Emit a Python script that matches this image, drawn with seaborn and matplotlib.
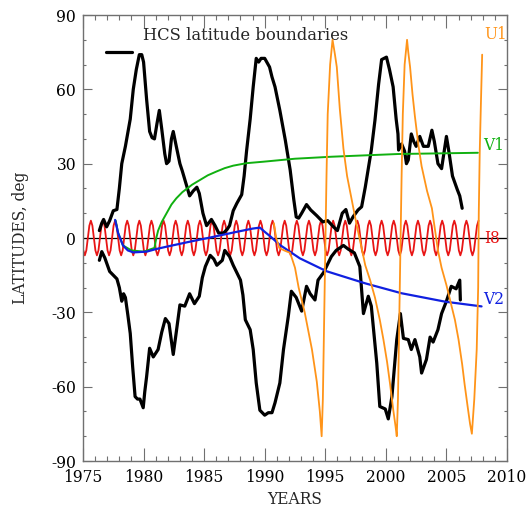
import matplotlib
matplotlib.use("Agg")
import matplotlib.pyplot as plt
import seaborn as sns
import numpy as np

# HCS latitude boundaries (north / south)
hcs_n_year = [1976.35, 1976.55, 1976.7, 1976.95, 1977.2, 1977.5, 1977.8, 1978.0, 1978.2, 1978.5,
              1978.9, 1979.15, 1979.4, 1979.65, 1979.85, 1980.0, 1980.25, 1980.5, 1980.7, 1980.9,
              1981.1, 1981.3, 1981.5, 1981.75, 1981.9, 1982.1, 1982.3, 1982.45, 1982.7, 1983.0,
              1983.2, 1983.5, 1983.8, 1984.1, 1984.4, 1984.6, 1984.9, 1985.2, 1985.6, 1985.9,
              1986.2, 1986.6, 1986.9, 1987.1, 1987.4, 1987.7, 1988.1, 1988.3, 1988.5, 1988.8,
              1989.05, 1989.3, 1989.5, 1989.7, 1990.0, 1990.4, 1990.6, 1990.85, 1991.25, 1991.7,
              1992.1, 1992.4, 1992.6, 1992.8, 1993.05, 1993.45, 1993.8, 1994.3, 1994.8, 1995.2,
              1995.7, 1996.0, 1996.4, 1996.7, 1997.0, 1997.3, 1997.7, 1998.0, 1998.3, 1998.8,
              1999.1, 1999.4, 1999.65, 2000.05, 2000.3, 2000.6, 2000.85, 2001.0, 2001.05, 2001.3,
              2001.55, 2001.7, 2001.85, 2002.1, 2002.3, 2002.5, 2002.8, 2003.1, 2003.5, 2003.8,
              2004.0, 2004.3, 2004.6, 2005.0, 2005.2, 2005.5, 2005.9, 2006.1, 2006.3]
hcs_n_lat = [3, 6, 7.5, 4.5, 7, 11, 11.5, 20, 30, 37,
             48, 60, 68, 74, 74, 71, 56, 43, 40.5, 40,
             46, 51.5, 44, 34, 30, 31, 40, 43, 37, 30,
             27, 22, 17, 19, 20.5, 18, 10, 5, 7.5, 5,
             2, 2, 3.5, 5, 11, 14, 17.5, 25, 35, 48,
             61, 72.5, 71, 72.5, 72.5, 69, 65, 61, 51.5, 39.5,
             27.5, 15.5, 8.5, 8, 10, 13.5, 11.3, 9, 6.5, 7,
             4.4, 3, 10, 11.5, 6, 8.6, 11.3, 12.6, 20.5, 35.5,
             47.5, 62, 72, 73, 68, 61, 48, 42, 35.5, 38,
             35, 30, 31.5, 42, 39, 37, 41, 37, 37, 43.5,
             39, 30, 28, 41, 35, 25, 19.5, 17, 12]

hcs_s_year = [1976.35, 1976.55, 1976.8, 1977.2, 1977.5, 1977.8, 1978.0, 1978.2, 1978.35, 1978.5,
              1978.7, 1978.9, 1979.1, 1979.3, 1979.5, 1979.7, 1979.97, 1980.1, 1980.25, 1980.5,
              1980.8, 1981.2, 1981.5, 1981.8, 1982.1, 1982.45, 1982.7, 1983.0, 1983.4, 1983.8,
              1984.2, 1984.6, 1984.85, 1985.1, 1985.5, 1985.8, 1986.05, 1986.5, 1986.7, 1987.1,
              1987.4, 1987.7, 1988.0, 1988.2, 1988.4, 1988.8, 1989.05, 1989.3, 1989.6, 1990.0,
              1990.3, 1990.6, 1990.85, 1991.25, 1991.55, 1991.95, 1992.2, 1992.6, 1993.05, 1993.45,
              1993.75, 1994.15, 1994.4, 1994.85, 1995.5, 1995.9, 1996.5, 1996.9, 1997.4, 1997.85,
              1998.15, 1998.55, 1998.8, 1999.25, 1999.5, 1999.95, 2000.2, 2000.5, 2000.9, 2001.2,
              2001.45, 2001.85, 2002.1, 2002.4, 2002.8, 2002.95, 2003.35, 2003.65, 2003.9, 2004.3,
              2004.6, 2005.0, 2005.4, 2005.8, 2006.1, 2006.15]
hcs_s_lat = [-9, -5.5, -8, -13.5, -15, -16.5, -20, -25.5, -22.5, -24,
             -31, -38.5, -52, -64, -65, -65, -68.5, -62, -56, -44.5,
             -48, -45, -38, -32.5, -34.5, -47, -38, -27, -27.5, -22.5,
             -26.5, -23.5, -16, -11.5, -7, -8.5, -11, -9, -5, -7.5,
             -11, -14, -17, -23, -33, -37, -45, -58.5, -69.5, -71.5,
             -70.5, -70.5, -66.5, -58.5, -45, -31.5, -21.5, -24, -29.5, -19.5,
             -22.5, -25, -17, -14, -7.5, -5, -3, -4.5, -6, -11.5,
             -30.5, -23.5, -27.5, -50.5, -68, -69, -73, -64, -41, -30.5,
             -40.5, -41, -45, -41, -48, -54.5, -49, -40, -42, -37,
             -30.5, -25.5, -19.5, -20.5, -17, -25]

# Ulysses (U1)
u1_year = [1990.75, 1990.95, 1991.2, 1991.6, 1992.1, 1992.5, 1992.8, 1993.3, 1993.9, 1994.3,
           1994.55, 1994.7, 1994.8, 1994.9, 1995.0, 1995.1, 1995.2, 1995.4, 1995.6, 1995.8,
           1995.95, 1996.2, 1996.5, 1996.8, 1997.2, 1997.6, 1998.0, 1998.3, 1998.7, 1999.1,
           1999.5, 1999.8, 2000.1, 2000.35, 2000.6, 2000.8, 2000.9, 2001.0, 2001.1, 2001.2,
           2001.3, 2001.4, 2001.55, 2001.75, 2001.85, 2002.0, 2002.2, 2002.4, 2002.7, 2002.95,
           2003.4, 2003.8, 2004.3, 2004.6, 2005.0, 2005.3, 2005.7, 2006.0, 2006.3, 2006.5,
           2006.75, 2006.95, 2007.1, 2007.3, 2007.5, 2007.62, 2007.67, 2007.75, 2007.85, 2007.95]
u1_lat = [6, 0, -4, -5, -6, -12, -20, -30, -45, -58,
          -70, -80, -65, -35, -5, 25, 50, 70, 80, 74,
          69, 52, 36, 25, 15, 5, -4, -11, -17, -24,
          -33, -41, -50, -59, -69, -76, -80, -65, -35, -5,
          25, 50, 70, 80, 75, 69, 58, 49, 37, 29,
          19, 12, -5, -12, -19, -25, -33, -41, -51, -59,
          -68, -75, -79, -65, -45, -20, 10, 35, 55, 74]

# Voyager 1 (V1) and Voyager 2 (V2)
v1_year = [1977.7, 1977.9, 1978.3, 1979.0, 1980.0, 1980.9, 1981.05, 1981.2, 1981.5, 1981.9,
           1982.3, 1982.7, 1983.2, 1984.0, 1984.65, 1985.3, 1986.0, 1986.7, 1987.4, 1988.5,
           1989.9, 1992.5, 1995.5, 2001.0, 2007.6]
v1_lat = [7, 2, -3, -5, -5.5, -4, 0, 3, 6.5, 10,
          13.5, 16, 18.5, 21.5, 23.4, 25.3, 26.8, 28.2, 29.2, 30.2,
          30.8, 32, 32.8, 33.9, 34.4]

v2_year = [1977.65, 1977.9, 1978.3, 1978.7, 1979.15, 1980.25, 1981.0, 1981.9, 1983.8, 1985.5,
           1987.5, 1989.0, 1989.6, 1990.0, 1990.5, 1991.25, 1992.9, 1995.1, 1998.3, 2001.3,
           2004.9, 2007.9]
v2_lat = [7.3, 2, -3, -5, -5.8, -5.5, -4.5, -3.5, -1.5, 0.2,
          2.3, 3.8, 4.2, 2.5, 0.5, -2.8, -8.2, -13.4, -18.3, -22.3,
          -25.7, -27.6]

# IMP-8 (I8): one yearly cycle of latitude, first sample at the Sept peak
i8_first_peak = 1974.65
i8_n_years = 33
i8_cycle = [7, 5, 0, -5, -7, -5, 0, 5]
i8_end = 2007.7

i8_year = np.arange(i8_n_years * len(i8_cycle) + 1) / len(i8_cycle) + i8_first_peak
i8_lat = np.array((i8_cycle * (i8_n_years + 1))[:len(i8_year)], dtype=float)
keep = (i8_year >= 1975.0) & (i8_year <= i8_end)
i8_year, i8_lat = i8_year[keep], i8_lat[keep]

sns.set_theme(style="ticks")
plt.rcParams["font.family"] = ["DejaVu Serif"]
plt.rcParams["axes.unicode_minus"] = False

fig = plt.figure(figsize=(5.3, 5.07), dpi=100)
ax = fig.add_axes([0.1566, 0.0907, 0.8, 0.8797])

orange = "#ff9419"
green = "#10b010"
red = "#e81515"
blue = "#1020e0"

ax.axhline(0, color="black", lw=0.9, zorder=1)
sns.lineplot(x=i8_year, y=i8_lat, ax=ax, color=red, lw=1.3, estimator=None, sort=False, zorder=2)
sns.lineplot(x=hcs_n_year, y=hcs_n_lat, ax=ax, color="black", lw=2.3, estimator=None, sort=False, zorder=3)
sns.lineplot(x=hcs_s_year, y=hcs_s_lat, ax=ax, color="black", lw=2.3, estimator=None, sort=False, zorder=3)
sns.lineplot(x=v1_year, y=v1_lat, ax=ax, color=green, lw=1.4, estimator=None, sort=False, zorder=4)
sns.lineplot(x=v2_year, y=v2_lat, ax=ax, color=blue, lw=1.6, estimator=None, sort=False, zorder=5)
sns.lineplot(x=u1_year, y=u1_lat, ax=ax, color=orange, lw=1.3, estimator=None, sort=False, zorder=6)

fs = 11.2
ax.text(2008.15, 82, "U1", color=orange, fontsize=fs, va="center", ha="left")
ax.text(2008.0, 37.5, "V1", color=green, fontsize=fs, va="center", ha="left")
ax.text(2008.1, 0, "I8", color=red, fontsize=fs, va="center", ha="left")
ax.text(2008.0, -25, "V2", color=blue, fontsize=fs, va="center", ha="left")

# legend, IDL style
ax.text(0.1415, 0.955, "HCS latitude boundaries", transform=ax.transAxes,
        fontsize=fs + 0.6, va="center", ha="left")
ax.plot([0.054, 0.1156], [0.917, 0.917], transform=ax.transAxes, color="black", lw=2.3)

ax.set_xlim(1975, 2010)
ax.set_ylim(-90, 90)
ax.set_xticks(np.arange(1975, 2011, 5))
ax.set_xticks(np.arange(1975, 2011, 1), minor=True)
ax.set_yticks(np.arange(-90, 91, 30))
ax.set_yticks(np.arange(-90, 91, 10), minor=True)
ax.set_xlabel("YEARS", fontsize=fs, labelpad=3)
ax.set_ylabel("LATITUDES, deg", fontsize=fs, labelpad=16)

frame = "#707070"
for s in ax.spines.values():
    s.set_color(frame)
    s.set_linewidth(1.0)
ax.tick_params(axis="both", which="both", direction="in", top=True, right=True,
               color=frame, width=0.8, labelsize=fs, labelcolor="black")
ax.tick_params(axis="x", which="major", length=9.5, pad=6)
ax.tick_params(axis="x", which="minor", length=3.8)
ax.tick_params(axis="y", which="major", length=6.5, pad=5)
ax.tick_params(axis="y", which="minor", length=2.5)

fig.savefig("out.png", dpi=100, facecolor="white")
